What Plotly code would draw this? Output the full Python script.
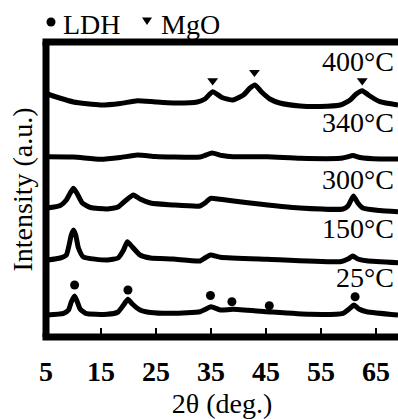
import plotly.graph_objects as go

# ---------------- data (2θ in degrees, intensity in a.u., curves stacked) -------------
theta_400 = [5.25, 10.0, 14.9, 18.5, 21.6, 24.9, 28.1, 32.5, 33.9, 35.3, 37.0, 39.0, 40.9,
             42.1, 43.0, 44.2, 45.7, 47.5, 51.2, 54.8, 58.5, 60.3, 61.4, 62.5, 63.6, 65.7, 69.0]
int_400 = [243, 235, 232, 233.5, 236.3, 235, 234, 235, 238, 245.3, 239.5, 237, 242,
           249, 252, 245, 238, 234, 231, 230.5, 232, 237, 243, 246.3, 242, 235.3, 232]

theta_340 = [5.25, 10.0, 14.9, 18.5, 21.6, 24.9, 28.1, 33.0, 34.1, 35.2, 37.0, 39.0, 45.2,
             51.2, 58.5, 59.7, 60.8, 62.1, 65.7, 69.0]
int_340 = [180.3, 180, 177.7, 179.5, 182, 180.5, 180, 180, 182, 184, 181.5, 180.3, 180.3,
           178.7, 178.7, 180, 181.5, 179.5, 178, 178]

theta_300 = [5.25, 7.6, 8.7, 9.4, 10.0, 10.7, 11.6, 13.1, 16.1, 18.1, 19.6, 20.9, 22.1, 24.0,
             28.1, 33.0, 33.9, 34.9, 36.7, 42.1, 51.2, 59.0, 59.9, 60.9, 61.7, 62.6, 65.7, 69.0]
int_300 = [129, 131.5, 137, 144, 148.7, 143, 134, 129.5, 128, 130, 137, 142, 138, 134,
           132, 131, 134, 138.7, 137.7, 134, 129, 128, 131, 141, 134, 129, 126.5, 125.3]

theta_150 = [5.25, 7.6, 8.7, 9.2, 9.6, 10.0, 10.4, 10.9, 11.8, 16.1, 18.1, 19.1, 19.8, 20.7,
             22.1, 24.0, 28.1, 33.0, 33.9, 34.9, 36.7, 45.2, 58.5, 59.9, 60.8, 61.7, 63.3, 69.0]
int_150 = [77, 79, 82, 92, 102, 107, 102, 89, 80, 77, 79, 87, 95.3, 90,
           82, 79, 78, 76, 79, 82, 79.7, 77.7, 75.3, 78, 81, 78, 76.3, 74.3]

theta_25 = [5.2, 8.2, 9.1, 9.6, 10.2, 10.7, 11.2, 12.2, 16.1, 18.1, 19.1, 19.9, 20.7, 22.1,
            24.0, 28.1, 33.0, 34.1, 35.0, 36.7, 39.0, 45.2, 53.0, 59.0, 60.1, 61.0, 61.9, 63.3, 69.0]
int_25 = [22, 23.7, 27, 35, 41, 35, 28, 23.7, 22.7, 25, 32, 37.7, 33, 27,
          24.5, 23.7, 25.3, 28, 30.3, 27, 27.7, 25.3, 22.7, 23.7, 28, 32, 28, 25.3, 22]

# phase markers
ldh_theta = [10.2, 19.9, 34.9, 38.8, 45.6, 61.2]
ldh_int = [52, 47, 41.5, 35.3, 31.3, 40.3]
mgo_theta = [35.3, 42.9, 62.5]
mgo_int = [256.3, 264.7, 256.3]

# temperature labels
temp_labels = ["400°C", "340°C", "300°C", "150°C", "25°C"]
label_int = [275.5, 214.5, 157.5, 108.5, 59.5]

tick_vals = [5, 15, 25, 35, 45, 55, 65]

# ---------------- figure ----------------
FONT = "Liberation Serif"
fig = go.Figure()

series = [(theta_400, int_400), (theta_340, int_340), (theta_300, int_300),
          (theta_150, int_150), (theta_25, int_25)]
for (tx, ty), name in zip(series, temp_labels):
    fig.add_trace(go.Scatter(x=tx, y=ty, mode="lines", name=name, showlegend=False,
                             line=dict(color="black", width=5, shape="spline", smoothing=0.5)))

fig.add_trace(go.Scatter(x=ldh_theta, y=ldh_int, mode="markers", name="LDH", showlegend=False,
                         marker=dict(symbol="circle", size=9, color="black")))
fig.add_trace(go.Scatter(x=mgo_theta, y=mgo_int, mode="markers", name="MgO", showlegend=False,
                         marker=dict(symbol="triangle-down", size=9.5, color="black")))

for txt, yv in zip(temp_labels, label_int):
    fig.add_annotation(x=1, xref="paper", y=yv, yref="y", text=txt, showarrow=False,
                       xanchor="right", yanchor="middle", xshift=-2,
                       font=dict(family=FONT, size=28, color="black"))

# legend (text + symbols) above the plot
fig.add_annotation(x=0, xref="paper", y=1, yref="paper", text="LDH", showarrow=False,
                   xanchor="left", yanchor="middle", xshift=15, yshift=18,
                   font=dict(family=FONT, size=28, color="black"))
fig.add_annotation(x=0, xref="paper", y=1, yref="paper", text="MgO", showarrow=False,
                   xanchor="left", yanchor="middle", xshift=113, yshift=18,
                   font=dict(family=FONT, size=28, color="black"))
fig.add_shape(type="circle", xref="paper", yref="paper", xsizemode="pixel", ysizemode="pixel",
              xanchor=0, yanchor=1, x0=0.5, x1=9.5, y0=15.5, y1=24.5,
              fillcolor="black", line=dict(width=0))
fig.add_shape(type="path", xref="paper", yref="paper", xsizemode="pixel", ysizemode="pixel",
              xanchor=0, yanchor=1, path="M 96,24.5 L 106,24.5 L 101,17 Z",
              fillcolor="black", line=dict(width=0))

# axis frame (left, top, bottom) centred on plot edges
ext = -3.5 / 352
frame = dict(color="black", width=7)
fig.add_shape(type="line", xref="paper", yref="paper", x0=0, x1=0, y0=0, y1=1, line=frame)
fig.add_shape(type="line", xref="paper", yref="paper", x0=ext, x1=1, y0=1, y1=1, line=frame)
fig.add_shape(type="line", xref="paper", yref="paper", x0=ext, x1=1, y0=0, y1=0, line=frame)

fig.update_layout(
    width=398, height=419, autosize=False,
    margin=dict(l=46, r=0, t=42, b=82),
    plot_bgcolor="white", paper_bgcolor="white",
    font=dict(family=FONT, color="black"),
    xaxis=dict(range=[5, 69], tickvals=tick_vals, ticks="inside", ticklen=9, tickwidth=2,
               tickcolor="black", showgrid=False, zeroline=False, showline=False,
               ticklabelstandoff=15,
               tickfont=dict(family=FONT, size=28, color="black", weight="bold"),
               title=dict(text="2θ (deg.)", font=dict(family=FONT, size=28, color="black"),
                          standoff=7)),
    yaxis=dict(range=[0, 295], showticklabels=False, ticks="", showgrid=False,
               zeroline=False, showline=False,
               title=dict(text="Intensity (a.u.)", font=dict(family=FONT, size=28, color="black"),
                          standoff=4)),
)

fig.write_html("out.html")
